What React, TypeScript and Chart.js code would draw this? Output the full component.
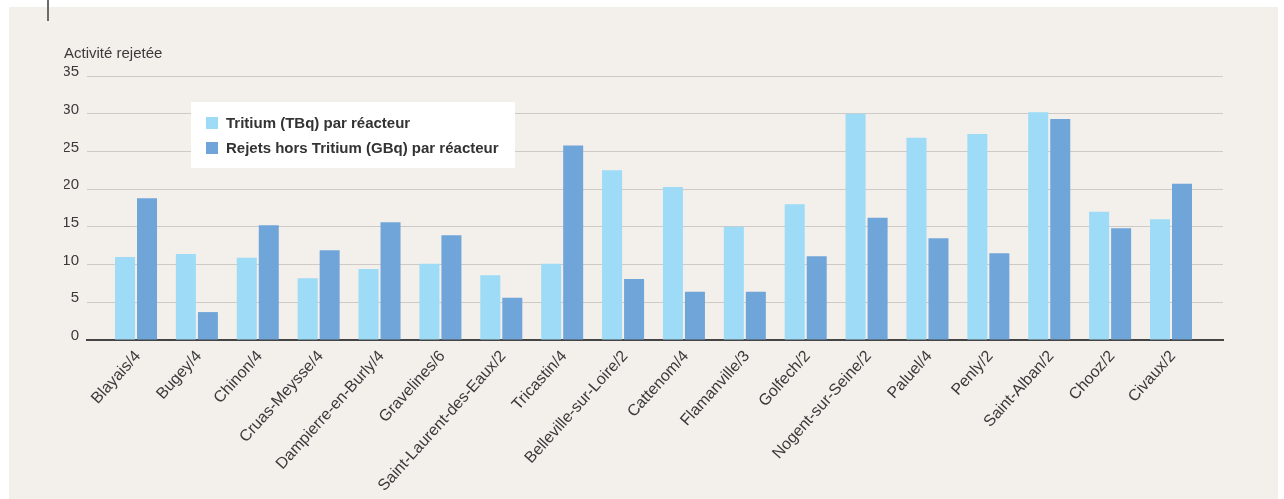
import { useEffect, useRef } from "react";
import { Chart, registerables } from "chart.js";

Chart.register(...registerables);

const categories = [
  "Blayais/4",
  "Bugey/4",
  "Chinon/4",
  "Cruas-Meysse/4",
  "Dampierre-en-Burly/4",
  "Gravelines/6",
  "Saint-Laurent-des-Eaux/2",
  "Tricastin/4",
  "Belleville-sur-Loire/2",
  "Cattenom/4",
  "Flamanville/3",
  "Golfech/2",
  "Nogent-sur-Seine/2",
  "Paluel/4",
  "Penly/2",
  "Saint-Alban/2",
  "Chooz/2",
  "Civaux/2",
];

const tritiumTBq = [11.0, 11.4, 10.9, 8.2, 9.4, 10.1, 8.6, 10.1, 22.5, 20.3, 15.0, 18.0, 30.0, 26.8, 27.3, 30.2, 17.0, 16.0];
const horsTritiumGBq = [18.8, 3.7, 15.2, 11.9, 15.6, 13.9, 5.6, 25.8, 8.1, 6.4, 6.4, 11.1, 16.2, 13.5, 11.5, 29.3, 14.8, 20.7];

const seriesLabels = ["Tritium (TBq) par réacteur", "Rejets hors Tritium (GBq) par réacteur"];
const seriesColors = ["#9ddbf6", "#6fa5d8"];
const yTicks = [0, 5, 10, 15, 20, 25, 30, 35];
const axisTitle = "Activité rejetée";

const FONT = "'Liberation Sans', Arial, Helvetica, sans-serif";
const TEXT = "#3a3a3a";

const boxLegend = {
  id: "boxLegend",
  afterDatasetsDraw(chart: any) {
    const { ctx, chartArea } = chart;
    const x = chartArea.left + 104;
    const y = chartArea.top + 26;
    ctx.save();
    ctx.fillStyle = "#ffffff";
    ctx.fillRect(x, y, 324, 66);
    ctx.font = `bold 15px ${FONT}`;
    ctx.textBaseline = "middle";
    ctx.textAlign = "left";
    chart.data.datasets.forEach((ds: any, i: number) => {
      const cy = y + 21 + i * 25;
      ctx.fillStyle = ds.backgroundColor;
      ctx.fillRect(x + 15, cy - 6, 12, 12);
      ctx.fillStyle = "#333333";
      ctx.fillText(ds.label, x + 35, cy + 1);
    });
    ctx.restore();
  },
};

export default function App() {
  const ref = useRef<HTMLCanvasElement | null>(null);

  useEffect(() => {
    if (!ref.current) return;
    const chart = new Chart(ref.current, {
      type: "bar",
      data: {
        labels: categories,
        datasets: [
          {
            label: seriesLabels[0],
            data: tritiumTBq,
            backgroundColor: seriesColors[0],
            categoryPercentage: 0.7227,
            barPercentage: 0.909,
          },
          {
            label: seriesLabels[1],
            data: horsTritiumGBq,
            backgroundColor: seriesColors[1],
            categoryPercentage: 0.7227,
            barPercentage: 0.909,
          },
        ],
      },
      options: {
        animation: false,
        responsive: false,
        layout: { padding: { left: 55, right: 55, top: 0, bottom: 0 } },
        plugins: {
          legend: { display: false },
          tooltip: { enabled: false },
          title: {
            display: true,
            text: axisTitle,
            align: "start",
            color: TEXT,
            font: { family: FONT, size: 15, weight: "normal", lineHeight: 1.2 },
            padding: { top: 38, bottom: 13 },
          },
        },
        scales: {
          x: {
            grid: { display: false, drawTicks: false },
            border: { display: true, color: "#444444", width: 2 },
            ticks: {
              autoSkip: false,
              maxRotation: 48,
              minRotation: 48,
              padding: 7,
              labelOffset: 2,
              color: TEXT,
              font: { family: FONT, size: 16 },
            },
            afterBuildTicks: (scale: any) => {
              scale._startValue -= 0.305;
              scale._valueRange += 0.659;
            },
            afterFit: (scale: any) => {
              scale.height = 159;
            },
          },
          y: {
            min: 0,
            max: 35,
            grid: { color: "#cdcac7", lineWidth: 1, drawTicks: false },
            border: { display: false },
            ticks: {
              padding: 8,
              labelOffset: -4,
              color: TEXT,
              font: { family: FONT, size: 15 },
            },
            afterBuildTicks: (scale: any) => {
              scale.ticks = yTicks.map((v) => ({ value: v }));
            },
            afterFit: (scale: any) => {
              scale.width = 23;
            },
          },
        },
      },
      plugins: [boxLegend],
    });
    return () => chart.destroy();
  }, []);

  return (
    <>
      <div
        style={{
          position: "absolute",
          left: 9,
          top: 7,
          width: 1269,
          height: 492,
          background: "#f3efeb",
        }}
      >
        <canvas ref={ref} width={1269} height={492} style={{ display: "block" }} />
      </div>
      <div
        style={{
          position: "absolute",
          left: 47,
          top: 0,
          width: 2,
          height: 21,
          background: "#6b6b6b",
        }}
      />
    </>
  );
}
